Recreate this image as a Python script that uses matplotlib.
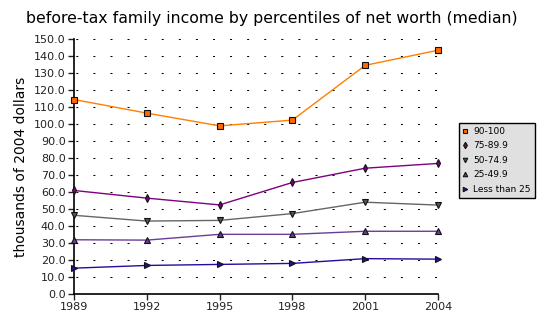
import matplotlib
matplotlib.use("Agg")
import matplotlib.pyplot as plt

# survey years and median income (thousands of 2004 dollars) per net worth group
years = [1989, 1992, 1995, 1998, 2001, 2004]
pct_90_100 = [114.4, 106.4, 98.9, 102.3, 134.5, 143.4]
pct_75_90 = [60.9, 56.4, 52.4, 65.6, 74.0, 76.8]
pct_50_75 = [46.3, 42.9, 43.3, 47.3, 54.0, 52.3]
pct_25_50 = [31.9, 31.7, 35.1, 35.1, 36.9, 36.9]
pct_lt_25 = [15.2, 16.8, 17.4, 18.0, 20.8, 20.5]

series_labels = ["90-100", "75-89.9", "50-74.9", "25-49.9", "Less than 25"]
y_ticks = [i * 10 for i in range(16)]

plt.rcParams["lines.scale_dashes"] = False

fig = plt.figure(figsize=(5.43, 3.23), dpi=100)
ax = fig.add_axes([74 / 543, 1 - 294 / 323, 364 / 543, 255 / 323])

# sparse dotted horizontal grid (one short dash about every 17 px)
for t in y_ticks[1:]:
    ax.axhline(t, color="black", lw=0.75, zorder=0,
               linestyle=(11.0, (1.44, 10.86)))

styles = [
    ("#ff7f00", "s", "#ff6a00", 4.0),
    ("#800080", "d", "#800080", 3.8),
    ("#666666", "v", "#555555", 3.8),
    ("#6a3d9a", "^", "#6a3d9a", 3.8),
    ("#2a0a9a", ">", "#2a0a9a", 3.8),
]
all_series = [pct_90_100, pct_75_90, pct_50_75, pct_25_50, pct_lt_25]

for values, label, (lc, mk, fc, ms) in zip(all_series, series_labels, styles):
    ax.plot(years, values, color=lc, lw=1.0, zorder=3, clip_on=False)
    ax.plot(years, values, linestyle="none", marker=mk, markersize=ms,
            markerfacecolor=fc, markeredgecolor="#111111", markeredgewidth=0.8,
            zorder=4, clip_on=False, label=label)

ax.set_xlim(1989, 2004)
ax.set_ylim(0, 150)
ax.set_xticks(years)
ax.set_yticks(y_ticks)
ax.set_yticklabels(["%.1f" % t for t in y_ticks])
ax.tick_params(axis="both", labelsize=8, direction="out", length=4, width=1,
               colors="#222222", pad=2)
ax.spines["top"].set_visible(False)
ax.spines["right"].set_visible(False)
ax.spines["left"].set_linewidth(1.2)
ax.spines["bottom"].set_linewidth(1.2)

ax.set_ylabel("thousands of 2004 dollars", fontsize=10, labelpad=4)
fig.suptitle("before-tax family income by percentiles of net worth (median)",
             fontsize=11.3, y=0.965, x=0.5)

leg = ax.legend(loc="upper left", bbox_to_anchor=(459 / 543, 1 - 123 / 323),
                bbox_transform=fig.transFigure, fontsize=6.5, frameon=True,
                fancybox=False, borderaxespad=0, handlelength=0.5,
                handletextpad=0.6, labelspacing=0.6, borderpad=0.45,
                markerscale=0.85)
leg.get_frame().set_facecolor("#e0e0e0")
leg.get_frame().set_edgecolor("black")
leg.get_frame().set_alpha(1)
leg.get_frame().set_linewidth(1)

plt.savefig("out.png", dpi=100)
plt.close()
